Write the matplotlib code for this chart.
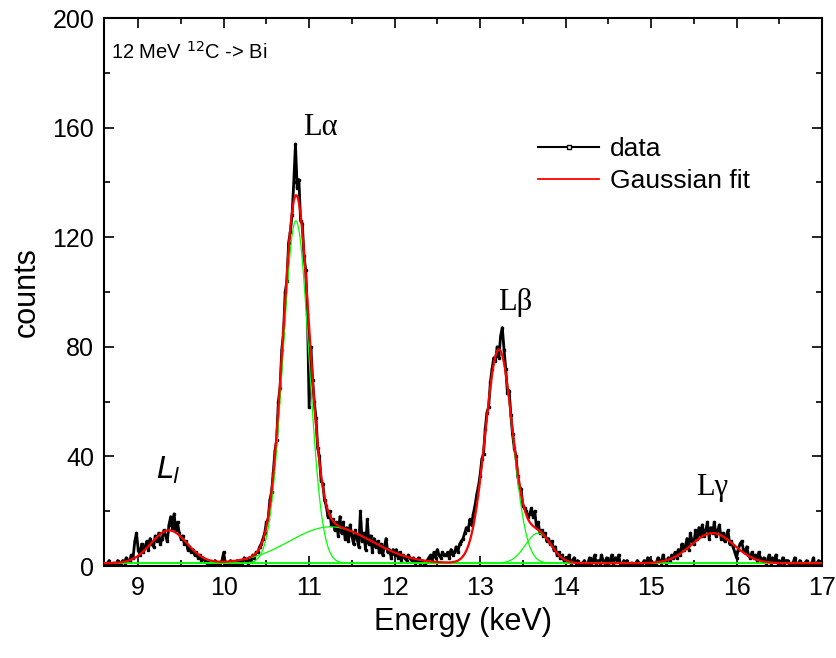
import numpy as np
import matplotlib
matplotlib.use('Agg')
import matplotlib.pyplot as plt
from matplotlib.lines import Line2D
from matplotlib.ticker import MultipleLocator

# spectrum, 0.02 keV bins from 8.60 to 17.00 keV
counts = [
    1, 0, 1, 2, 0, 1, 1, 0, 2, 1,          # 8.60
    1, 2, 1, 3, 2, 2, 4, 3, 9, 12,         # 8.80
    6, 4, 8, 5, 7, 9, 6, 10, 8, 7,         # 9.00
    11, 9, 12, 8, 10, 13, 11, 9, 15, 18,   # 9.20
    14, 19, 13, 16, 12, 10, 11, 8, 9, 6,   # 9.40
    7, 5, 6, 4, 5, 3, 4, 2, 3, 2,          # 9.60
    1, 2, 1, 0, 1, 2, 0, 1, 1, 2,          # 9.80
    5, 1, 0, 1, 2, 1, 0, 1, 2, 1,          # 10.00
    2, 1, 3, 2, 1, 3, 2, 4, 3, 5,          # 10.20
    5, 7, 8, 10, 12, 16, 17, 24, 27, 34,   # 10.40
    42, 46, 60, 65, 79, 85, 100, 104, 118, 122,   # 10.60
    128, 140, 154, 138, 141, 126, 125, 113, 108, 92,  # 10.80
    58, 80, 68, 60, 54, 43, 40, 31, 30, 24,  # 11.00
    22, 18, 20, 15, 17, 13, 16, 11, 18, 12,  # 11.20
    16, 10, 14, 9, 15, 11, 8, 13, 10, 7,     # 11.40
    20, 9, 12, 6, 17, 8, 11, 5, 10, 7,       # 11.60
    9, 5, 8, 4, 7, 10, 5, 6, 3, 6,           # 11.80
    4, 6, 3, 5, 2, 4, 3, 2, 4, 3,            # 12.00
    2, 3, 1, 2, 3, 1, 2, 1, 0, 2,            # 12.20
    3, 4, 2, 5, 3, 6, 4, 3, 5, 4,            # 12.40
    4, 5, 3, 6, 4, 5, 7, 5, 8, 9,            # 12.60
    10, 12, 14, 13, 17, 15, 19, 22, 26, 29,  # 12.80
    33, 39, 41, 50, 56, 58, 67, 72, 76, 75,  # 13.00
    80, 76, 84, 87, 79, 72, 63, 64, 55, 48,  # 13.20
    43, 40, 33, 29, 28, 22, 21, 20, 18, 19,  # 13.40
    21, 18, 20, 14, 16, 12, 13, 11, 12, 9,   # 13.60
    10, 8, 9, 6, 7, 4, 5, 3, 4, 2,           # 13.80
    3, 2, 4, 1, 2, 3, 1, 2, 0, 1,            # 14.00
    1, 2, 0, 1, 3, 1, 2, 4, 1, 2,            # 14.20
    1, 4, 2, 1, 3, 0, 2, 4, 1, 3,            # 14.40
    2, 4, 1, 0, 2, 1, 2, 0, 1, 1,            # 14.60
    0, 1, 2, 1, 0, 1, 2, 1, 3, 1,            # 14.80
    2, 1, 0, 1, 3, 2, 1, 4, 2, 1,            # 15.00
    3, 2, 4, 3, 5, 3, 6, 4, 8, 6,            # 15.20
    7, 10, 6, 12, 9, 8, 13, 10, 14, 11,      # 15.40
    15, 11, 13, 16, 10, 14, 12, 16, 11, 13,  # 15.60
    15, 10, 12, 9, 11, 13, 8, 9, 7, 5,       # 15.80
    3, 6, 8, 9, 6, 5, 7, 4, 3, 5,            # 16.00
    3, 4, 2, 5, 3, 2, 3, 1, 2, 4,            # 16.20
    1, 3, 2, 4, 1, 2, 0, 3, 1, 2,            # 16.40
    2, 0, 1, 1, 3, 1, 0, 2, 1, 0,            # 16.60
    1, 2, 0, 1, 1, 3, 0, 1, 2, 1,            # 16.80
    1,                                       # 17.00
]
e_min, e_max = 8.6, 17.0

# gaussian fit components: centre (keV), height (counts), sigma (keV)
fit_y0 = 1.0
fit_xc = [9.36, 10.845, 11.25, 13.22, 13.68, 15.72]
fit_A = [12.0, 125.0, 13.3, 78.0, 11.0, 11.0]
fit_w = [0.21, 0.152, 0.48, 0.16, 0.15, 0.25]

line_names = ['$\\mathit{L}_{\\mathit{l}}$', 'L\u03b1', 'L\u03b2', 'L\u03b3']
line_pos = [(9.35, 35), (11.13, 160), (13.41, 96), (15.71, 28.5)]

energy = np.linspace(e_min, e_max, len(counts))
xx = np.linspace(e_min, e_max, 1500)
comps = [A * np.exp(-(xx - c) ** 2 / (2 * w ** 2)) for c, A, w in zip(fit_xc, fit_A, fit_w)]
total = fit_y0 + np.sum(comps, axis=0)

plt.rcParams['font.family'] = ['Liberation Sans', 'DejaVu Sans']

fig = plt.figure(figsize=(8.36, 6.58), dpi=100)
ax = fig.add_axes([104 / 836, 1 - 566 / 658, 718 / 836, 548 / 658])

ax.plot(energy, counts, color='black', lw=2.0, marker='s', ms=1.6, mfc='black', mec='black', zorder=2)
for cc in comps:
    ax.plot(xx, fit_y0 + cc, color='#00ff00', lw=0.9, zorder=3)
ax.plot(xx, total, color='red', lw=1.6, zorder=4)

ax.set_xlim(e_min, e_max)
ax.set_ylim(0, 200)
ax.xaxis.set_major_locator(MultipleLocator(1))
ax.xaxis.set_minor_locator(MultipleLocator(0.5))
ax.yaxis.set_major_locator(MultipleLocator(40))
ax.yaxis.set_minor_locator(MultipleLocator(20))
ax.tick_params(which='both', direction='in', top=True, right=True, width=1.2, labelsize=18, pad=7)
ax.tick_params(which='major', length=7.5)
ax.tick_params(which='minor', length=4)
for s in ax.spines.values():
    s.set_linewidth(1.5)

ax.set_xlabel('Energy (keV)', fontsize=22, labelpad=5)
ax.set_ylabel('counts', fontsize=22, labelpad=8)

ax.text(8.68, 187.5, '12 MeV $^{12}$C -> Bi', fontsize=14.5, va='center', ha='left')

for i, (name, (px, py)) in enumerate(zip(line_names, line_pos)):
    if i == 0:
        ax.text(px, py, name, fontsize=22, ha='center', va='center')
    else:
        ax.text(px, py, name, fontsize=22, ha='center', va='center', family='Liberation Serif')

handles = [Line2D([], [], color='black', lw=1.5, marker='s', ms=3.5, mfc='white', mec='black'),
           Line2D([], [], color='red', lw=1.3)]
ax.legend(handles, ['data', 'Gaussian fit'], loc='upper left', bbox_to_anchor=(0.605, 0.782),
          frameon=False, fontsize=19, handlelength=2.3, handletextpad=0.4,
          labelspacing=0.3, borderpad=0, borderaxespad=0, numpoints=1)

fig.savefig('out.png', dpi=100)
